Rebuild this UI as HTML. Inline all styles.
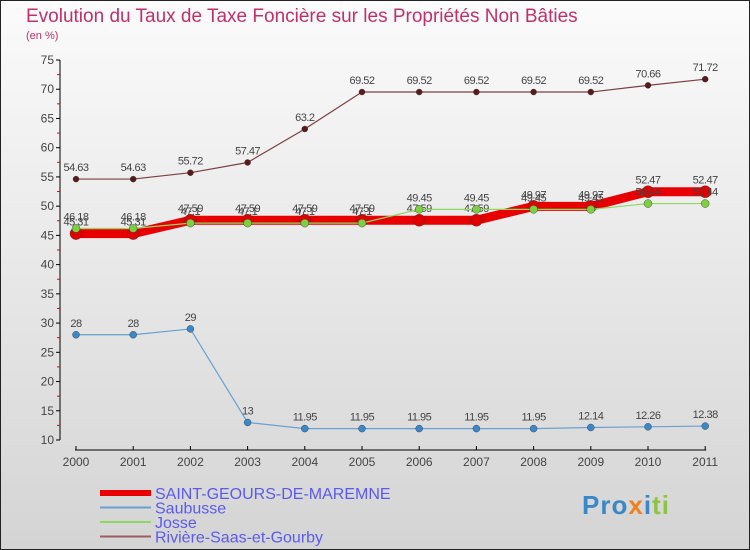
<!DOCTYPE html>
<html><head><meta charset="utf-8"><style>
body{margin:0;}
svg{display:block;font-family:"Liberation Sans",sans-serif;}
</style></head><body>
<svg id="c" width="750" height="550" xmlns="http://www.w3.org/2000/svg">
<defs><linearGradient id="bg" x1="0" y1="0" x2="0" y2="1"><stop offset="0" stop-color="#fbfbfb"/><stop offset="1" stop-color="#d4d4d4"/></linearGradient></defs>
<rect x="0.5" y="0.5" width="749" height="549" fill="url(#bg)" stroke="#222"/>
<text x="26" y="22" font-size="19" fill="#c0306a">Evolution du Taux de Taxe Foncière sur les Propriétés Non Bâties</text>
<text x="26" y="39" font-size="11" fill="#c0306a">(en %)</text>
<g id="axes"></g><g id="series"></g><g id="legend"></g>
</svg>
<script>
const years=[2000,2001,2002,2003,2004,2005,2006,2007,2008,2009,2010,2011];
const yTicks=[10,15,20,25,30,35,40,45,50,55,60,65,70,75];
const riviere=[54.63,54.63,55.72,57.47,63.2,69.52,69.52,69.52,69.52,69.52,70.66,71.72];
const josse=[46.18,46.18,47.1,47.1,47.1,47.1,49.45,49.45,49.45,49.45,50.44,50.44];
const saint=[45.31,45.31,47.59,47.59,47.59,47.59,47.59,47.59,49.97,49.97,52.47,52.47];
const saubusse=[28,28,29,13,11.95,11.95,11.95,11.95,11.95,12.14,12.26,12.38];
const NS="http://www.w3.org/2000/svg";
const X=i=>76+i*57.2, Y=v=>440-(v-10)*380/65;
function mk(tag,at,parent,txt){const e=document.createElementNS(NS,tag);for(const k in at)e.setAttribute(k,at[k]);if(txt!==undefined)e.textContent=txt;parent.appendChild(e);return e;}
const ax=document.getElementById('axes');
let e=mk('line',{x1:60,y1:Y(75),x2:60,y2:Y(10),stroke:'#000'},ax);

yTicks.forEach(t=>{mk('line',{x1:56,y1:Y(t),x2:60,y2:Y(t),stroke:'#000'},ax);
 if(t<75)mk('line',{x1:57,y1:Y(t+2.5),x2:60,y2:Y(t+2.5),stroke:'#e00'},ax);
 const l=mk('text',{x:54,y:Y(t)+4,'font-size':12,fill:'#444','text-anchor':'end'},ax,t);
 });
e=mk('line',{x1:75,y1:450,x2:X(11)+1,y2:450,stroke:'#000'},ax);

years.forEach((y,i)=>{mk('line',{x1:X(i),y1:446,x2:X(i),y2:450,stroke:'#000'},ax);
 const l=mk('text',{x:X(i),y:466,'font-size':12,fill:'#444','text-anchor':'middle'},ax,y);
 });
const sg=document.getElementById('series');
function series(d,name,col,w,r,dot){const g=mk('g',{},sg);
 
 mk('polyline',{points:d.map((v,i)=>X(i)+','+Y(v)).join(' '),fill:'none',stroke:col,'stroke-width':w,'stroke-linejoin':'round'},g);
 d.forEach((v,i)=>{const c=mk('circle',{cx:X(i),cy:Y(v),r:r,fill:dot,stroke:'#333','stroke-width':0.4},g);
  
  const t=mk('text',{x:X(i),y:Y(v)-8,'font-size':11,fill:'#444','text-anchor':'middle','letter-spacing':'-0.5'},g,v);
  });}
series(riviere,'riviere','#7a4040',1.2,3,'#5a1a1a');
series(saint,'saint-geours','#e80000',9,6,'#e00000');
series(josse,'josse','#8ed860',1.2,4,'#7cd040');
series(saubusse,'saubusse','#6aa0d0',1.2,3.5,'#3a88c8');
const lg=document.getElementById('legend');
[['SAINT-GEOURS-DE-MAREMNE','#e80000',6],['Saubusse','#6aa0d0',2],['Josse','#8ed860',2],['Rivière-Saas-et-Gourby','#9a6060',2]].forEach((s,i)=>{
 const g=mk('g',{},lg);
 const y=493+i*14.5;
 mk('line',{x1:100,y1:y,x2:151,y2:y,stroke:s[1],'stroke-width':s[2]},g);
 mk('text',{x:155,y:y+6,'font-size':16,fill:'#5a5af0'},g,s[0]);});
</script>
<div style="position:absolute;left:582px;top:490px;font:bold 26px 'Liberation Sans',sans-serif;letter-spacing:1px"><span style="color:#3a88c8">Pro</span><span style="color:#f08020">x</span><span style="color:#3a88c8">i</span><span style="color:#8cc63f">ti</span></div>
</body></html>
